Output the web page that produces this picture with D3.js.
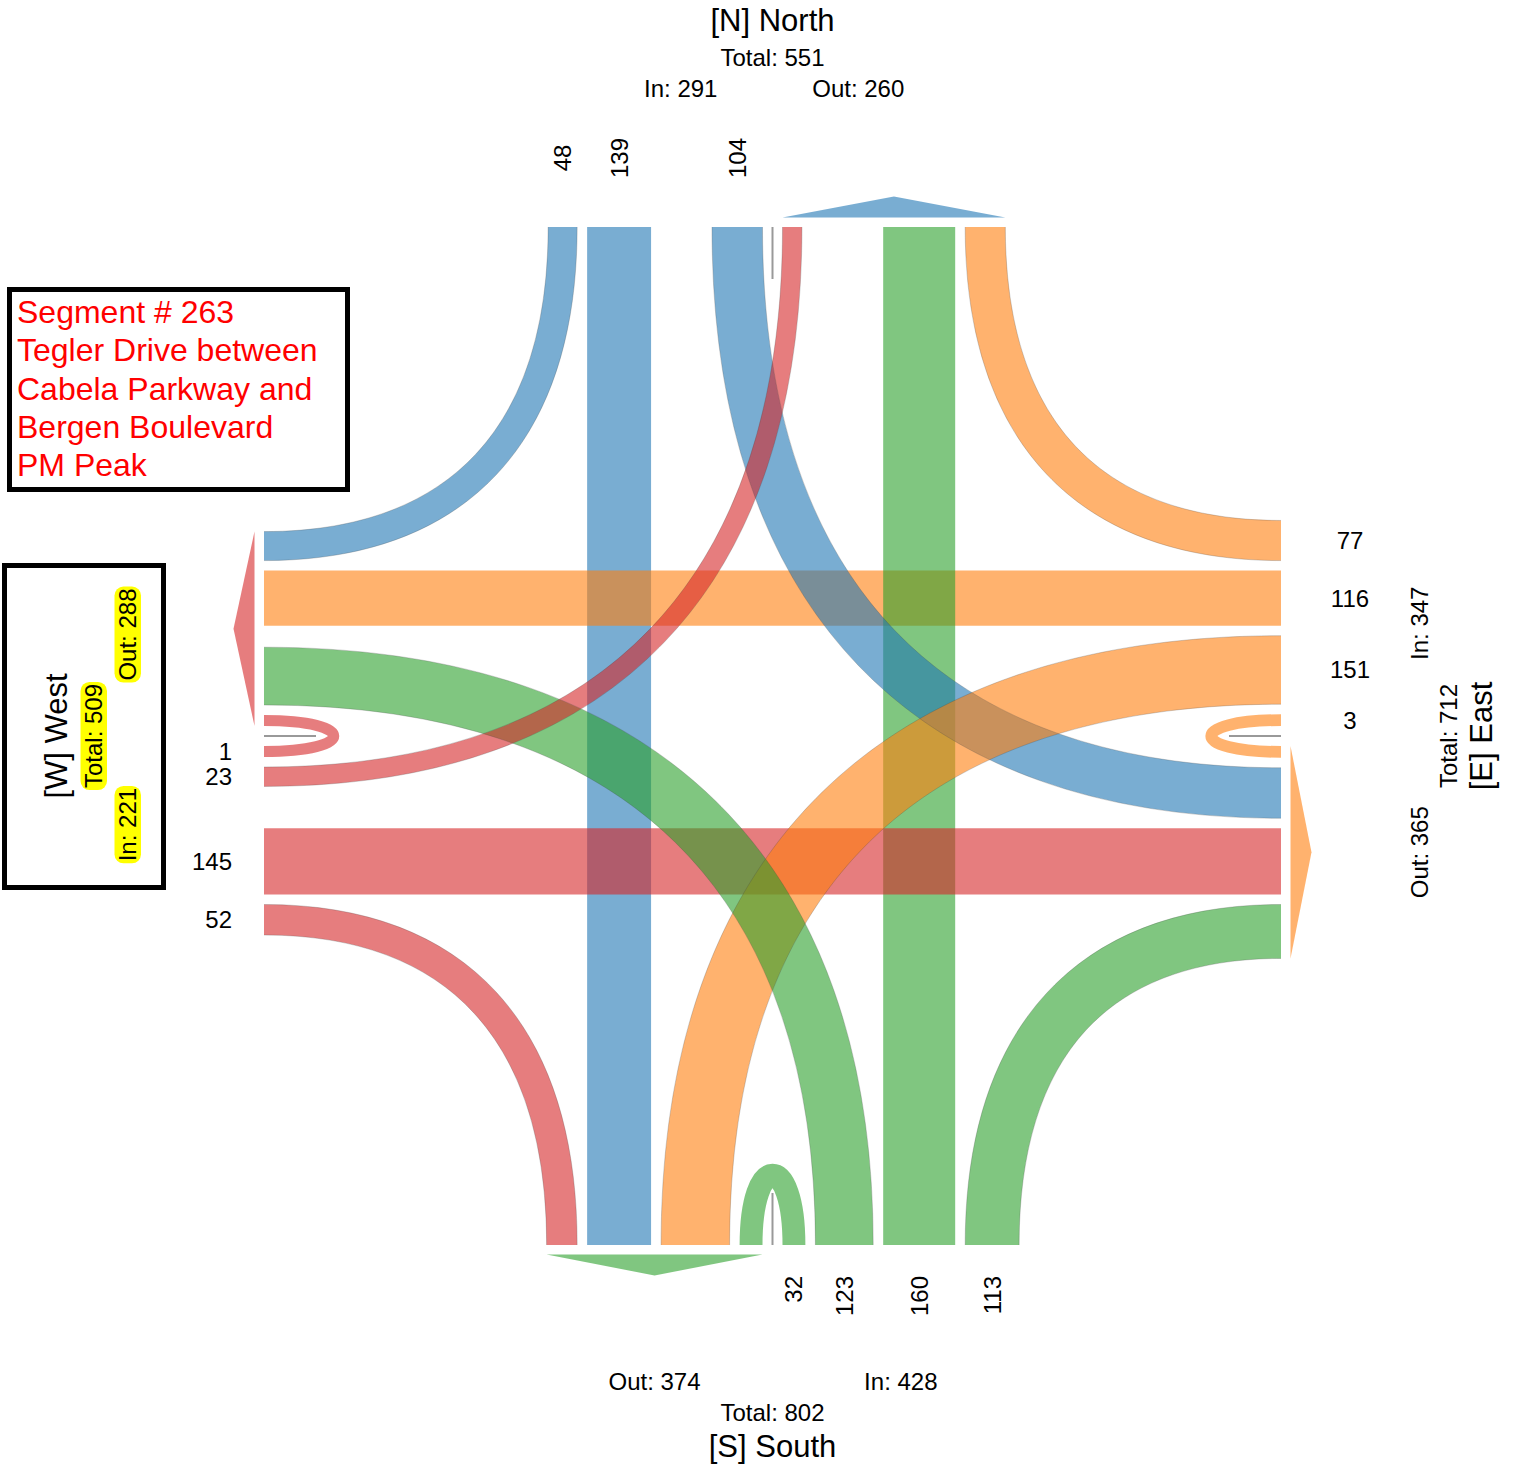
<!DOCTYPE html>
<html><head><meta charset="utf-8">
<script src="https://cdn.jsdelivr.net/npm/d3@7"></script>
<style>
body{margin:0;background:#fff}
svg{display:block}
text{font-family:"Liberation Sans",Arial,Helvetica,sans-serif}
</style>
</head><body>
<svg id="chart" width="1520" height="1467"></svg>
<script>
// ---------------- DATA ----------------
const approaches = ["N", "E", "S", "W"];
const approachNames = ["[N] North", "[E] East", "[S] South", "[W] West"];
// movements per approach (same order as approaches)
const uTurn     = [0, 3, 32, 1];
const leftTurn  = [104, 151, 123, 23];
const through   = [139, 116, 160, 145];
const rightTurn = [48, 77, 113, 52];
const titleLines = ["Segment # 263", "Tegler Drive between", "Cabela Parkway and", "Bergen Boulevard", "PM Peak"];
const approachColors = ["#1f77b4", "#ff7f0e", "#2ca02c", "#d62728"];

// ---------------- LAYOUT ----------------
const svg = d3.select("#chart");
const W0 = 264, E0 = 1281, N0 = 227, S0 = 1245, cx = 772.5, cy = 736;
const GAP = 10, K = 0.65, UL = 93, OP = 0.6;
const wScale = d3.scaleLinear().domain([0, 160]).range([10.6, 72]);

const vals = {U: uTurn, L: leftTurn, T: through, R: rightTurn};
const types = ["U", "L", "T", "R"];
const destOffset = {U: 0, L: 1, T: 2, R: 3};

function pack(list) {
  let off = GAP; const lanes = {};
  list.forEach(d => {
    if (d.v > 0) { const w = wScale(d.v); lanes[d.type] = {s: off, w: w, v: d.v}; off += w + GAP; }
  });
  return {lanes, extent: [GAP, off - GAP]};
}
const inLists = approaches.map((a, i) => types.map(t => ({type: t, v: vals[t][i]})));
const outLists = approaches.map((a, j) => types.map(t => ({type: t, v: vals[t][(j - destOffset[t] + 4) % 4]})));
const inPacked = inLists.map(pack), outPacked = outLists.map(pack);
const clone = o => JSON.parse(JSON.stringify(o));
const inLanes = inPacked.map(p => clone(p.lanes)), outLanes = outPacked.map(p => clone(p.lanes));
for (let i = 0; i < 4; i++) {
  const j = (i + 2) % 4;
  if (!inLanes[i].T) continue;
  const s = Math.max(inPacked[i].lanes.T.s, outPacked[j].lanes.T.s);
  inLanes[i].T.s = s; outLanes[j].T.s = s;
  if (inLanes[i].R) inLanes[i].R.s = s + inLanes[i].T.w + GAP;
  if (outLanes[j].R) outLanes[j].R.s = s + outLanes[j].T.w + GAP;
}

function legPoint(leg, side, o) {
  switch (leg) {
    case 0: return side === "in" ? [cx - o, N0] : [cx + o, N0];
    case 1: return side === "in" ? [E0, cy - o] : [E0, cy + o];
    case 2: return side === "in" ? [cx + o, S0] : [cx - o, S0];
    default: return side === "in" ? [W0, cy + o] : [W0, cy - o];
  }
}
const inward = [[0, 1], [-1, 0], [0, -1], [1, 0]];

function geometry(i, t) {
  const lane = inLanes[i][t]; const w = lane.w;
  const j = (i + destOffset[t]) % 4;
  const ol = outLanes[j][t];
  const P0 = legPoint(i, "in", lane.s + w / 2);
  const P1 = legPoint(j, "out", ol.s + w / 2);
  const d0 = inward[i];
  let c1, c2;
  if (t === "T") { c1 = P0; c2 = P1; }
  else if (t === "U") {
    c1 = [P0[0] + d0[0] * UL, P0[1] + d0[1] * UL];
    c2 = [P1[0] + d0[0] * UL, P1[1] + d0[1] * UL];
  } else {
    const C = d0[0] === 0 ? [P0[0], P1[1]] : [P1[0], P0[1]];
    c1 = [P0[0] + K * (C[0] - P0[0]), P0[1] + K * (C[1] - P0[1])];
    c2 = [P1[0] + K * (C[0] - P1[0]), P1[1] + K * (C[1] - P1[1])];
  }
  return {P0, P1, c1, c2, w, j};
}

const gBands = svg.append("g");
const gEdges = svg.append("g");
const order = ["T", "L", "R", "U"];
order.forEach(t => {
  approaches.forEach((a, i) => {
    const v = vals[t][i];
    if (!(v > 0)) return;
    const g = geometry(i, t);
    const p = d3.path();
    p.moveTo(g.P0[0], g.P0[1]);
    if (t === "T") p.lineTo(g.P1[0], g.P1[1]);
    else p.bezierCurveTo(g.c1[0], g.c1[1], g.c2[0], g.c2[1], g.P1[0], g.P1[1]);
    gBands.append("path").attr("d", p.toString())
      .attr("fill", "none").attr("stroke", approachColors[i])
      .attr("stroke-opacity", OP).attr("stroke-width", g.w);
    if (t === "L" || t === "R") {
      // faint edge lines along curved bands
      const n = 120, left = [], right = [];
      for (let k = 0; k <= n; k++) {
        const s = k / n, u = 1 - s;
        const x = u*u*u*g.P0[0] + 3*u*u*s*g.c1[0] + 3*u*s*s*g.c2[0] + s*s*s*g.P1[0];
        const y = u*u*u*g.P0[1] + 3*u*u*s*g.c1[1] + 3*u*s*s*g.c2[1] + s*s*s*g.P1[1];
        const dx = 3*u*u*(g.c1[0]-g.P0[0]) + 6*u*s*(g.c2[0]-g.c1[0]) + 3*s*s*(g.P1[0]-g.c2[0]);
        const dy = 3*u*u*(g.c1[1]-g.P0[1]) + 6*u*s*(g.c2[1]-g.c1[1]) + 3*s*s*(g.P1[1]-g.c2[1]);
        const L = Math.hypot(dx, dy) || 1, nx = -dy / L, ny = dx / L;
        left.push([x + nx * g.w / 2, y + ny * g.w / 2]);
        right.push([x - nx * g.w / 2, y - ny * g.w / 2]);
      }
      [left, right].forEach(pts => gEdges.append("path").attr("d", d3.line()(pts))
        .attr("fill", "none").attr("stroke", "#444").attr("stroke-opacity", 0.3).attr("stroke-width", 0.8));
    }
  });
});

// median lines
const medLen = 52;
[[cx, N0, cx, N0 + medLen], [E0, cy, E0 - medLen, cy], [cx, S0, cx, S0 - medLen], [W0, cy, W0 + medLen, cy]]
  .forEach(m => svg.append("line").attr("x1", m[0]).attr("y1", m[1]).attr("x2", m[2]).attr("y2", m[3])
    .attr("stroke", "#999").attr("stroke-width", 2));

// out arrows
const AB = 9.5, AH = 21;
approaches.forEach((a, j) => {
  const ls = Object.values(outLanes[j]);
  const a0 = d3.min(ls, d => d.s), a1 = d3.max(ls, d => d.s + d.w);
  const p0 = legPoint(j, "out", a0), p1 = legPoint(j, "out", a1);
  const d = inward[j];
  const b0 = [p0[0] - d[0] * AB, p0[1] - d[1] * AB], b1 = [p1[0] - d[0] * AB, p1[1] - d[1] * AB];
  const ap = [(b0[0] + b1[0]) / 2 - d[0] * AH, (b0[1] + b1[1]) / 2 - d[1] * AH];
  svg.append("polygon").attr("points", [b0, b1, ap].map(q => q.join(",")).join(" "))
    .attr("fill", approachColors[j]).attr("fill-opacity", OP);
});

// count labels on in lanes
const CF = 24;
approaches.forEach((a, i) => {
  types.forEach(t => {
    const lane = inLanes[i][t]; if (!lane) return;
    const c = lane.s + lane.w / 2;
    const pt = legPoint(i, "in", c);
    let tx;
    if (i === 0) tx = svg.append("text").attr("transform", `translate(${pt[0]},158) rotate(-90)`).attr("text-anchor", "middle");
    else if (i === 2) tx = svg.append("text").attr("transform", `translate(${pt[0]},1276) rotate(-90)`).attr("text-anchor", "end");
    else if (i === 1) tx = svg.append("text").attr("x", 1350).attr("y", pt[1]).attr("text-anchor", "middle");
    else tx = svg.append("text").attr("x", 232).attr("y", pt[1]).attr("text-anchor", "end");
    tx.attr("dominant-baseline", "central").attr("font-size", CF).attr("fill", "#000").text(lane.v);
  });
});

// title box
svg.append("rect").attr("x", 9.5).attr("y", 289.5).attr("width", 338).attr("height", 200)
  .attr("fill", "#fff").attr("stroke", "#000").attr("stroke-width", 5);
titleLines.forEach((s, k) => svg.append("text").attr("x", 17).attr("y", 323.3 + k * 38.1)
  .attr("font-size", 32).attr("fill", "#ff0000").text(s));

// west box
svg.append("rect").attr("x", 4.5).attr("y", 565.5).attr("width", 159).attr("height", 322)
  .attr("fill", "#fff").attr("stroke", "#000").attr("stroke-width", 5);

// leg texts
const inTot = approaches.map((a, i) => d3.sum(inLists[i], d => d.v));
const outTot = approaches.map((a, j) => d3.sum(outLists[j], d => d.v));
const inC = inPacked.map(p => (p.extent[0] + p.extent[1]) / 2);
const outC = outPacked.map(p => (p.extent[0] + p.extent[1]) / 2);

function txt(x, y, s, size, rot, hl) {
  const g = svg.append("g").attr("transform", `translate(${x},${y})` + (rot ? " rotate(-90)" : ""));
  const r = hl ? g.append("rect") : null;
  const t = g.append("text").attr("text-anchor", "middle").attr("font-size", size).attr("fill", "#000").text(s);
  if (hl) {
    const b = t.node().getBBox();
    r.attr("x", b.x - 2).attr("y", b.y + 0.5).attr("width", b.width + 4).attr("height", b.height - 0.5)
      .attr("rx", 9).attr("ry", 9).attr("fill", "#ffff00");
  }
}
const NF = 31;
// North
txt(cx, 30.7, approachNames[0], NF, false);
txt(cx, 65.7, "Total: " + (inTot[0] + outTot[0]), 24, false);
txt(cx - inC[0], 96.7, "In: " + inTot[0], 24, false);
txt(cx + outC[0], 96.7, "Out: " + outTot[0], 24, false);
// South
txt(cx + inC[2], 1390, "In: " + inTot[2], 24, false);
txt(cx - outC[2], 1390, "Out: " + outTot[2], 24, false);
txt(cx, 1420.7, "Total: " + (inTot[2] + outTot[2]), 24, false);
txt(cx, 1456.7, approachNames[2], NF, false);
// East
txt(1428, cy - inC[1], "In: " + inTot[1], 24, true);
txt(1428, cy + outC[1], "Out: " + outTot[1], 24, true);
txt(1457, cy, "Total: " + (inTot[1] + outTot[1]), 24, true);
txt(1492, cy, approachNames[1], NF, true);
// West (inside box, highlighted)
txt(67, cy, approachNames[3], NF, true);
txt(102, cy, "Total: " + (inTot[3] + outTot[3]), 24, true, true);
txt(136, cy + inC[3], "In: " + inTot[3], 24, true, true);
txt(136, cy - outC[3], "Out: " + outTot[3], 24, true, true);
</script>
</body></html>
